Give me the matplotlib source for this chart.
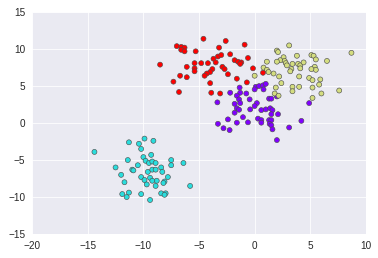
import numpy as np
import matplotlib.pyplot as plt
import seaborn as sns

# cluster 0 (purple)
x0 = [-1.35, -2.2, -1.3, -0.75, -1.6, 0.1, 0.4, 0.75, 1.0, 0.0, 0.8, -3.35, -1.4, -1.8, -1.3,
      -1.6, -1.4, -1.8, -0.45, 0.2, 0.0, 1.3, 1.5, 2.0, -0.4, 0.6, 1.0, 1.4, 1.6, 1.5, 2.1,
      -1.05, -2.4, 0.3, 0.6, 0.6, 1.3, 1.5, 1.35, -1.6, -0.6, -3.3, 4.2, 1.5, 1.6, -2.8,
      -2.25, 3.1, 2.0, 4.9]
y0 = [4.8, 4.1, 4.1, 4.0, 3.7, 4.9, 5.0, 5.1, 5.3, 4.55, 4.55, 2.8, 3.2, 2.6, 2.7,
      2.0, 1.8, 1.4, 3.2, 2.7, 2.3, 3.3, 3.3, 3.6, 1.85, 1.75, 1.85, 2.0, 1.75, 1.2, 1.2,
      0.8, 0.5, 0.6, 0.4, 0.05, 0.4, 0.4, -0.1, 0.05, 0.1, -0.1, 0.3, -0.3, -0.85, -0.7,
      -0.95, -0.6, -2.3, 2.7]

# cluster 1 (cyan)
x1 = [-14.4, -11.3, -10.4, -9.9, -9.1, -10.2, -11.4, -12.5, -10.5, -10.0, -9.8, -9.3, -9.5,
      -9.2, -8.9, -11.0, -10.9, -9.6, -9.2, -8.9, -8.4, -8.3, -7.5, -7.5, -6.4, -12.0,
      -10.2, -9.9, -9.4, -8.8, -9.2, -9.7, -8.1, -8.2, -7.8, -8.9, -11.7, -5.8, -11.9,
      -11.3, -11.5, -10.2, -9.4, -8.4, -8.0, -8.1]
y1 = [-3.9, -2.6, -2.8, -2.1, -2.4, -3.5, -5.0, -6.0, -5.7, -4.6, -5.1, -4.3, -5.4,
      -5.2, -5.4, -6.3, -6.4, -6.6, -6.3, -6.3, -6.0, -6.6, -5.0, -5.7, -5.4, -7.0,
      -7.3, -7.7, -7.4, -7.8, -7.8, -8.3, -7.9, -8.1, -7.3, -8.5, -8.0, -8.5, -9.6,
      -9.4, -10.0, -9.6, -10.4, -9.5, -9.5, -9.7]

# cluster 2 (yellow-green)
x2 = [3.1, 2.0, 2.1, 8.7, 3.8, 5.1, 5.3, 5.5, 6.5, 2.6, 2.3, 2.7, 2.8, 2.9, 2.0, 1.1,
      3.4, 3.9, 4.1, 4.4, 4.1, 3.3, 5.4, 5.5, 5.1, 0.8, 1.1, 1.7, 2.2, 0.0, 4.0, 4.9,
      5.2, 5.9, 2.4, 5.8, 3.4, 4.0, 1.9, 5.2, 3.4, 7.6, 6.0, 1.8, 5.2, 1.25, 3.2, 2.15]
y2 = [10.5, 9.8, 9.6, 9.5, 9.1, 9.2, 9.1, 8.6, 8.4, 8.9, 8.5, 8.4, 8.1, 7.8, 8.3, 8.3,
      8.0, 8.0, 7.8, 8.2, 7.4, 7.3, 7.6, 7.2, 7.3, 7.5, 7.2, 6.7, 6.3, 6.4, 6.3, 6.1,
      5.8, 5.9, 5.4, 5.2, 4.9, 4.9, 4.8, 4.8, 4.3, 4.4, 4.0, 4.0, 3.4, 6.9, 7.0, 3.7]

# cluster 3 (red)
x3 = [-4.6, -2.6, -0.9, -7.0, -6.6, -6.3, -6.6, -6.3, -5.3, -3.2, -2.2, -3.7, -3.3, -3.0,
      -3.5, -5.4, -4.8, -4.2, -1.8, -1.5, -1.2, -1.3, -0.6, -8.5, -6.1, -5.4, -5.4, -2.9,
      -2.7, -3.8, -4.0, -4.3, -4.5, -2.4, -6.7, -6.1, -1.6, -0.15, 0.75, -7.3, -4.0,
      -0.7, -6.8, -3.9, -3.1]
y3 = [11.4, 11.1, 10.6, 10.4, 10.3, 10.2, 9.9, 9.7, 9.7, 10.2, 9.3, 8.7, 9.0, 9.2,
      8.2, 8.1, 8.1, 8.1, 8.5, 8.3, 8.2, 8.0, 8.8, 7.9, 7.6, 7.4, 7.0, 7.6,
      7.3, 7.3, 6.9, 6.7, 6.4, 6.6, 6.4, 6.2, 6.0, 7.4, 6.8, 5.6, 5.4,
      5.5, 4.2, 4.1, 4.0]

xs = [x0, x1, x2, x3]
ys = [y0, y1, y2, y3]

sns.set_style('darkgrid')
plt.rcParams['font.family'] = ['Liberation Sans', 'DejaVu Sans']

fig = plt.figure(figsize=(378 / 72, 258 / 72), dpi=72)
ax = fig.add_axes([0.085, 0.093, 0.883, 0.86])

X = np.concatenate([np.array(v) for v in xs])
Y = np.concatenate([np.array(v) for v in ys])
labels = np.concatenate([np.full(len(v), i) for i, v in enumerate(xs)])

ax.scatter(X, Y, c=labels, cmap='rainbow', s=25, edgecolors='0.3', linewidths=0.6)
ax.set_xlim(-20, 10)
ax.set_ylim(-15, 15)
ax.tick_params(labelsize=10, colors='0.15')

fig.savefig('out.png', dpi=72)
